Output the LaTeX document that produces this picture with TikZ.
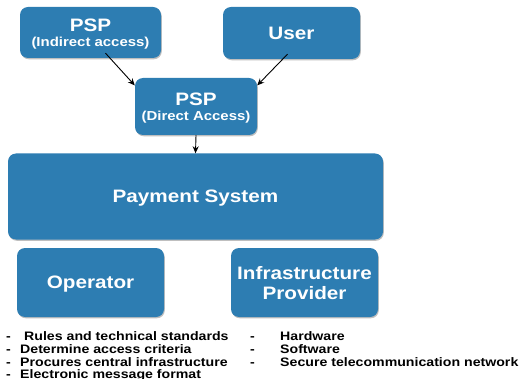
\documentclass[tikz,border=0pt]{standalone}
\usepackage{fontspec}
\setmainfont[FakeStretch=1.15]{Liberation Sans}
\usetikzlibrary{shadows,arrows.meta}
\definecolor{boxblue}{RGB}{45,125,178}
\newcommand{\accessnote}[1]{{\fontsize{13}{15}\selectfont #1}}
\tikzset{
  actor/.style={fill=boxblue, rounded corners=8pt, text=white,
    font=\bfseries\fontsize{18}{20}\selectfont,
    align=center, inner sep=0pt, text depth=0pt,
    drop shadow={shadow xshift=0.8pt, shadow yshift=-1.3pt, fill=black, opacity=.25}},
  psp/.style={actor, font=\bfseries\fontsize{18}{15.5}\selectfont},
  flow/.style={-{Stealth[length=7pt,width=6pt]}, line width=0.9pt},
  listdash/.style={anchor=base west, inner sep=0pt, font=\bfseries\fontsize{12.3}{13}\selectfont},
  listitem/.style={anchor=base west, inner sep=0pt, font=\bfseries\fontsize{12.3}{13}\selectfont},
}
\begin{document}
\begin{tikzpicture}[x=1pt,y=-1pt] % ------ Acteurs du systeme de paiement -----------------
    \useasboundingbox (0,0) rectangle (521,379);
    \node [psp, minimum width=141pt, minimum height=51pt] (ind) at (90.5,32.5)
      {PSP\\\accessnote{(Indirect access)}};
    \node [actor, minimum width=137pt, minimum height=52pt] (user) at (291.5,33) {User};
    \node [psp, minimum width=122pt, minimum height=57pt] (direct) at (196,106.5)
      {PSP\\\accessnote{(Direct Access)}};
    \node [actor, minimum width=375pt, minimum height=86pt] (pay) at (195.5,196.5)
      {Payment System};
    \node [actor, minimum width=147pt, minimum height=69pt] (oper) at (90.5,282.5) {Operator};
    \node [actor, minimum width=147pt, minimum height=69pt] (infra) at (304.5,282.5)
      {Infrastructure\\Provider};
    % fleches
    \draw [flow] ([shift={(15,-5)}]ind.south) -- (direct.161);
    \draw [flow] ([shift={(-4,-5)}]user.south) -- (direct.19);
    \draw [flow] (direct.south) -- (pay.north);
    % listes sous les acteurs
    \foreach \y/\txt [count=\i] in {340/{\hspace{4pt}Rules and technical standards},
        353/Determine access criteria, 366/Procures central infrastructure,
        378.5/Electronic message format} {
      \node [listdash] (odash\i) at (6,\y) {-};
      \node [listitem] (oitem\i) at (20,\y) {\txt};
    }
    \foreach \y/\txt [count=\i] in {340.5/Hardware, 353.5/Software,
        366.5/Secure telecommunication network} {
      \node [listdash] (idash\i) at (250,\y) {-};
      \node [listitem] (iitem\i) at (280,\y) {\txt};
    }
\end{tikzpicture}
\end{document}
